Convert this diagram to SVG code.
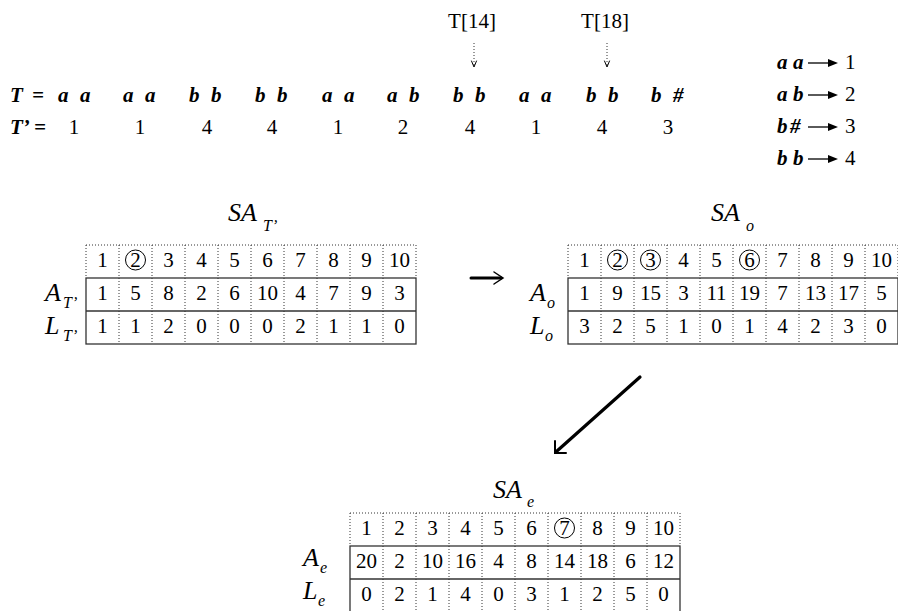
<svg xmlns="http://www.w3.org/2000/svg" width="898" height="611" viewBox="0 0 898 611">
<style>
text{font-family:"Liberation Serif","Times New Roman",serif;fill:#000}
.n{font-size:21px}
.c{text-anchor:middle}
.bi{font-size:21px;font-weight:bold;font-style:italic}
.t{font-size:26px;font-style:italic}
.s{font-size:16px;font-style:italic}
.dot{stroke:#333;stroke-width:1;stroke-dasharray:1 2;fill:none}
.sol{stroke:#333;stroke-width:1.3;fill:none}
.circ{stroke:#000;stroke-width:1;fill:none}
.arr{stroke:#000;fill:none;stroke-linecap:round;stroke-linejoin:miter}
</style>
<defs>
<g id="grid">
<path class="dot" d="M0,0H330M0,0V33M330,0V33M33,0V99M66,0V99M99,0V99M132,0V99M165,0V99M198,0V99M231,0V99M264,0V99M297,0V99"/>
<rect class="sol" x="0" y="33" width="330" height="66"/>
<path class="sol" d="M0,66H330"/>
</g>
<g id="hdr" class="n c">
<text x="16.5" y="22">1</text><text x="49.5" y="22">2</text><text x="82.5" y="22">3</text><text x="115.5" y="22">4</text><text x="148.5" y="22">5</text><text x="181.5" y="22">6</text><text x="214.5" y="22">7</text><text x="247.5" y="22">8</text><text x="280.5" y="22">9</text><text x="313.5" y="22">10</text>
</g>
</defs>

<g id="sequence">
<text class="bi" x="10" y="102">T</text><text class="bi" x="32" y="102">=</text>
<text class="bi" x="58 80" y="102">aa</text>
<text class="bi" x="123 145" y="102">aa</text>
<text class="bi" x="189 211" y="102">bb</text>
<text class="bi" x="255 277" y="102">bb</text>
<text class="bi" x="322 344" y="102">aa</text>
<text class="bi" x="387 409" y="102">ab</text>
<text class="bi" x="453 475" y="102">bb</text>
<text class="bi" x="519 541" y="102">aa</text>
<text class="bi" x="586 608" y="102">bb</text>
<text class="bi" x="651 673" y="102">b#</text>
<text class="bi" x="10" y="134">T’</text><text class="bi" x="34" y="134">=</text>
<g class="n c">
<text x="74" y="134">1</text><text x="140" y="134">1</text><text x="207" y="134">4</text><text x="272" y="134">4</text><text x="338" y="134">1</text><text x="403" y="134">2</text><text x="470" y="134">4</text><text x="536" y="134">1</text><text x="602" y="134">4</text><text x="668" y="134">3</text>
</g>
</g>

<g id="pointers">
<text class="n c" x="472" y="28">T[14]</text>
<text class="n c" x="605" y="28">T[18]</text>
</g>

<g id="legend">
<text class="bi" x="777 793" y="69">aa</text>
<text class="bi" x="777 793" y="101">ab</text>
<text class="bi" x="777 790" y="133">b#</text>
<text class="bi" x="777 793" y="165">bb</text>
<g>
<path d="M808,63H830" stroke="#000" stroke-width="1.3"/><path d="M828,59L838,63L828,67Z"/>
<path d="M808,95H830" stroke="#000" stroke-width="1.3"/><path d="M828,91L838,95L828,99Z"/>
<path d="M808,127H830" stroke="#000" stroke-width="1.3"/><path d="M828,123L838,127L828,131Z"/>
<path d="M808,159H830" stroke="#000" stroke-width="1.3"/><path d="M828,155L838,159L828,163Z"/>
</g>
<text class="n" x="845" y="69">1</text>
<text class="n" x="845" y="101">2</text>
<text class="n" x="845" y="133">3</text>
<text class="n" x="845" y="165">4</text>
</g>

<g id="table-SAT">
<text class="t" x="228" y="221">SA</text><text class="s" x="263" y="231">T’</text>
<text class="t" x="45" y="301">A</text><text class="s" x="63" y="308">T’</text>
<text class="t" x="45" y="334">L</text><text class="s" x="63" y="341">T’</text>
<g transform="translate(86,245)">
<use href="#grid"/><use href="#hdr"/>
<circle class="circ" cx="49.5" cy="15" r="10"/>
<g class="n c">
<text x="16.5" y="55">1</text><text x="49.5" y="55">5</text><text x="82.5" y="55">8</text><text x="115.5" y="55">2</text><text x="148.5" y="55">6</text><text x="181.5" y="55">10</text><text x="214.5" y="55">4</text><text x="247.5" y="55">7</text><text x="280.5" y="55">9</text><text x="313.5" y="55">3</text>
<text x="16.5" y="88">1</text><text x="49.5" y="88">1</text><text x="82.5" y="88">2</text><text x="115.5" y="88">0</text><text x="148.5" y="88">0</text><text x="181.5" y="88">0</text><text x="214.5" y="88">2</text><text x="247.5" y="88">1</text><text x="280.5" y="88">1</text><text x="313.5" y="88">0</text>
</g>
</g>
</g>

<g id="table-SAo">
<text class="t" x="711" y="221">SA</text><text class="s" x="746" y="231">o</text>
<text class="t" x="530" y="301">A</text><text class="s" x="547" y="308">o</text>
<text class="t" x="530" y="334">L</text><text class="s" x="545" y="341">o</text>
<g transform="translate(568,245)">
<use href="#grid"/><use href="#hdr"/>
<circle class="circ" cx="49.5" cy="15" r="10"/>
<circle class="circ" cx="82.5" cy="15" r="10"/>
<circle class="circ" cx="181.5" cy="15" r="10"/>
<g class="n c">
<text x="16.5" y="55">1</text><text x="49.5" y="55">9</text><text x="82.5" y="55">15</text><text x="115.5" y="55">3</text><text x="148.5" y="55">11</text><text x="181.5" y="55">19</text><text x="214.5" y="55">7</text><text x="247.5" y="55">13</text><text x="280.5" y="55">17</text><text x="313.5" y="55">5</text>
<text x="16.5" y="88">3</text><text x="49.5" y="88">2</text><text x="82.5" y="88">5</text><text x="115.5" y="88">1</text><text x="148.5" y="88">0</text><text x="181.5" y="88">1</text><text x="214.5" y="88">4</text><text x="247.5" y="88">2</text><text x="280.5" y="88">3</text><text x="313.5" y="88">0</text>
</g>
</g>
</g>

<g id="table-SAe">
<text class="t" x="493" y="498">SA</text><text class="s" x="527" y="507">e</text>
<text class="t" x="303" y="566">A</text><text class="s" x="320" y="573">e</text>
<text class="t" x="303" y="599">L</text><text class="s" x="318" y="606">e</text>
<g transform="translate(350,513)">
<use href="#grid"/><use href="#hdr"/>
<circle class="circ" cx="214.5" cy="15" r="10"/>
<g class="n c">
<text x="16.5" y="55">20</text><text x="49.5" y="55">2</text><text x="82.5" y="55">10</text><text x="115.5" y="55">16</text><text x="148.5" y="55">4</text><text x="181.5" y="55">8</text><text x="214.5" y="55">14</text><text x="247.5" y="55">18</text><text x="280.5" y="55">6</text><text x="313.5" y="55">12</text>
<text x="16.5" y="88">0</text><text x="49.5" y="88">2</text><text x="82.5" y="88">1</text><text x="115.5" y="88">4</text><text x="148.5" y="88">0</text><text x="181.5" y="88">3</text><text x="214.5" y="88">1</text><text x="247.5" y="88">2</text><text x="280.5" y="88">5</text><text x="313.5" y="88">0</text>
</g>
</g>
</g>

<g id="connectors">
<path class="dot" d="M474,43V65"/>
<path class="arr" stroke-width="1" d="M471.5,61L474,67L476.5,61"/>
<path class="dot" d="M607,43V65"/>
<path class="arr" stroke-width="1" d="M604.5,61L607,67L609.5,61"/>
<path class="arr" stroke-width="3" d="M471,278H501"/>
<path class="arr" stroke-width="1.5" d="M494,272L503,278L494,284"/>
<path class="arr" stroke-width="3.2" d="M640,377L557,451"/>
<path class="arr" stroke-width="2" d="M555,441V453H566"/>
</g>
</svg>
